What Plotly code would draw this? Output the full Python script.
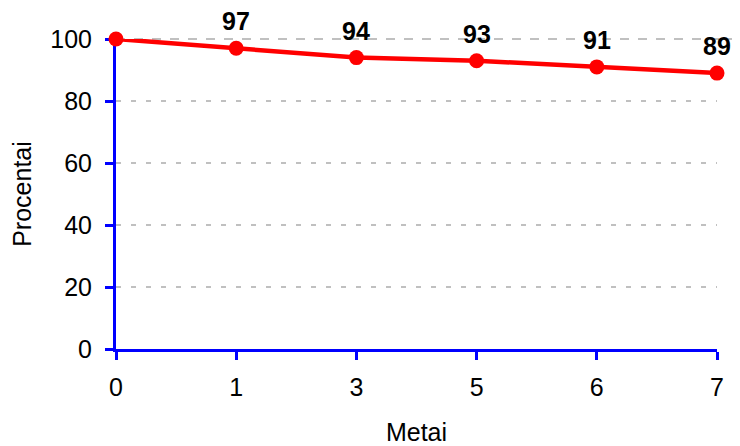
import plotly.graph_objects as go

years = ["0", "1", "3", "5", "6", "7"]
percent = [100, 97, 94, 93, 91, 89]
labels = ["", "97", "94", "93", "91", "89"]
y_ticks = [0, 20, 40, 60, 80, 100]

FONT = "Liberation Sans, Arial, sans-serif"

fig = go.Figure()
fig.add_trace(go.Scatter(
    x=years, y=percent, mode="lines+markers",
    line=dict(color="#FF0000", width=4.5),
    marker=dict(color="#FF0000", size=15),
    cliponaxis=False, showlegend=False,
))

for i, (yv, t) in enumerate(zip(percent, labels)):
    if t:
        fig.add_annotation(x=i, y=yv, xref="x", yref="y", text="<b>%s</b>" % t,
                           showarrow=False, yshift=27, yanchor="middle", borderpad=0,
                           font=dict(size=25, color="#000000", family=FONT))

# top gridline (at the range edge, plotly skips it) extends slightly past the plot area
fig.add_shape(type="line", xref="paper", yref="paper", x0=0, x1=1.03, y0=1, y1=1,
              line=dict(color="#C0C0C0", width=2, dash="dash"), layer="below")

axis_font = dict(size=25, color="#000000", family=FONT)
fig.update_layout(
    width=740, height=446,
    margin=dict(l=108, r=31, t=31, b=105),
    plot_bgcolor="rgba(0,0,0,0)", paper_bgcolor="white",
    font=axis_font,
    xaxis=dict(
        type="category", range=[0, 5],
        showline=True, linecolor="#0000FF", linewidth=3,
        ticks="outside", ticklen=8, tickcolor="#0000FF", tickwidth=3,
        ticklabelstandoff=6,
        showgrid=False, zeroline=False, layer="below traces",
        title=dict(text="Metai", font=axis_font, standoff=24),
        tickfont=axis_font,
    ),
    yaxis=dict(
        range=[0, 100], tickvals=y_ticks,
        showline=True, linecolor="#0000FF", linewidth=3,
        ticks="outside", ticklen=8, tickcolor="#0000FF", tickwidth=3,
        ticklabelstandoff=8,
        showgrid=True, gridcolor="#C0C0C0", gridwidth=2, griddash="5px,10px",
        zeroline=False, layer="below traces",
        title=dict(text="Procentai", font=axis_font, standoff=14),
        tickfont=axis_font,
    ),
)

fig.write_html("out.html")
